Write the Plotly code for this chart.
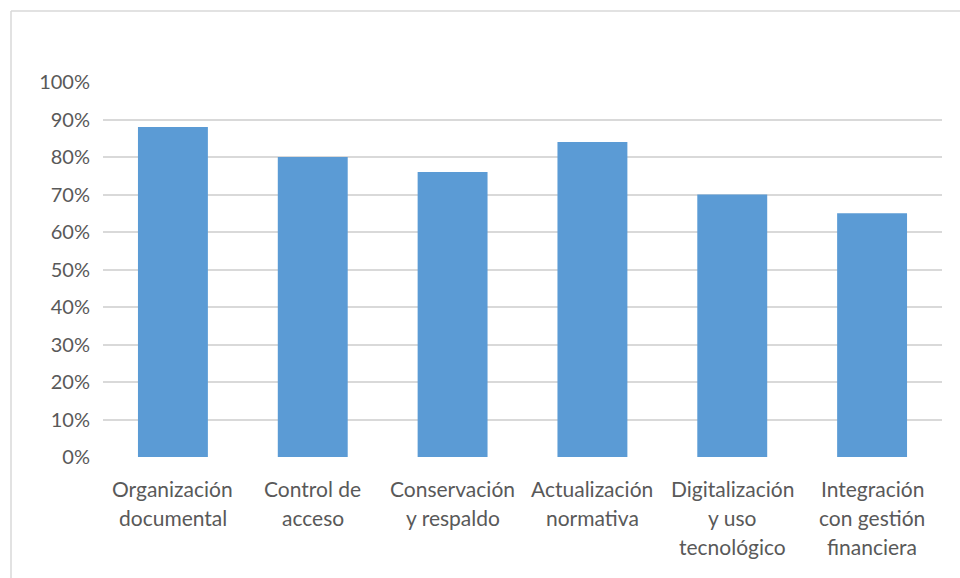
import plotly.graph_objects as go

categories = [
    ["Organización", "documental"],
    ["Control de", "acceso"],
    ["Conservación", "y respaldo"],
    ["Actualización", "normativa"],
    ["Digitalización", "y uso", "tecnológico"],
    ["Integración", "con gestión", "financiera"],
]
values = [0.88, 0.80, 0.76, 0.84, 0.70, 0.65]
y_ticks = [i / 10 for i in range(11)]
y_tick_labels = [f"{i * 10}%" for i in range(11)]

cat_keys = [" ".join(c) for c in categories]

W, H = 960, 578
L, R, T, B = 103, 18, 82, 121
pw, ph = W - L - R, H - T - B

fig = go.Figure(go.Bar(x=cat_keys, y=values, marker_color="#5B9BD5",
                       marker_line_width=0, width=0.5))

font = "Lato, 'Open Sans', sans-serif"
ann = []
for key, lines in zip(cat_keys, categories):
    for i, ln in enumerate(lines):
        ann.append(dict(x=key, xref="x", y=0, yref="paper", yshift=-(31 + 29 * i),
                        text=ln, showarrow=False, xanchor="center", yanchor="middle",
                        font=dict(family=font, size=21, color="#595959")))

def px_x(p):
    return (p - L) / pw

def px_y(p):
    return (H - B - p) / ph

shapes = [
    dict(type="line", xref="paper", yref="paper", x0=px_x(11), x1=px_x(965),
         y0=px_y(11), y1=px_y(11), line=dict(color="#D9D9D9", width=1.5)),
    dict(type="line", xref="paper", yref="paper", x0=px_x(11), x1=px_x(11),
         y0=px_y(11), y1=px_y(590), line=dict(color="#D9D9D9", width=1.5)),
]

fig.update_layout(
    width=W, height=H, margin=dict(l=L, r=R, t=T, b=B),
    paper_bgcolor="white", plot_bgcolor="white", showlegend=False,
    annotations=ann, shapes=shapes, bargap=0.5,
    xaxis=dict(showticklabels=False, showgrid=False, zeroline=False,
               showline=False, fixedrange=True),
    yaxis=dict(range=[0, 1], tickvals=y_ticks, ticktext=y_tick_labels,
               showgrid=True, gridcolor="#D9D9D9", gridwidth=1.5,
               zeroline=False, showline=False, ticklabelstandoff=12,
               tickfont=dict(family=font, size=20, color="#595959")),
)

fig.write_html("out.html")
